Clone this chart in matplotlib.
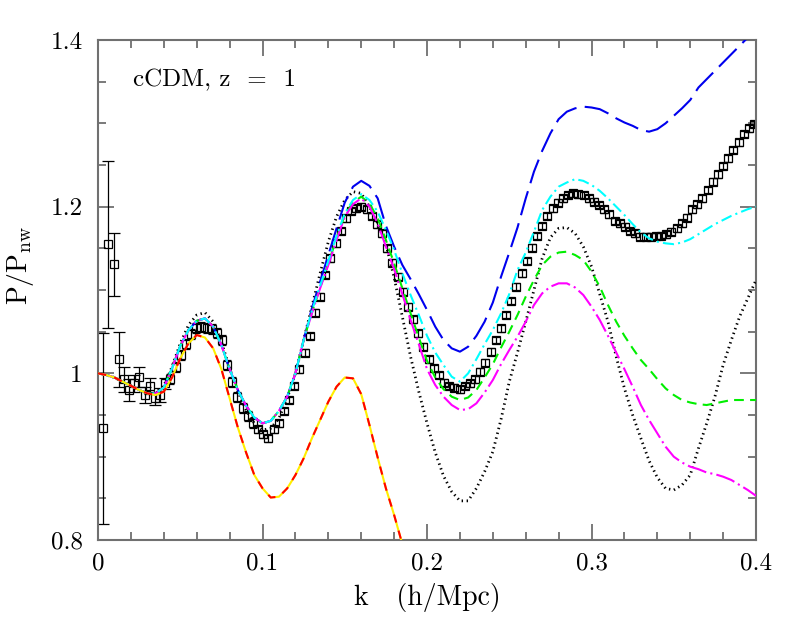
import numpy as np
import matplotlib
matplotlib.use('Agg')
import matplotlib.pyplot as plt

plt.rcParams['font.family'] = ['cmr10', 'DejaVu Serif']
plt.rcParams['mathtext.fontset'] = 'cm'
plt.rcParams['axes.unicode_minus'] = False
plt.rcParams['lines.scale_dashes'] = False

# simulation points (k in units of the fundamental mode)
k_data = 0.00314 * np.arange(1, 128)
p_data = [0.934, 1.155, 1.131, 1.017, 0.993, 0.980, 0.988, 0.996, 0.974, 0.985,
          0.970, 0.974, 0.988, 0.993, 1.008, 1.022, 1.035, 1.047, 1.054, 1.056,
          1.055, 1.053, 1.048, 1.040, 1.010, 0.990, 0.972, 0.958, 0.949, 0.940,
          0.933, 0.927, 0.922, 0.933, 0.940, 0.955, 0.968, 0.985, 1.005, 1.025,
          1.045, 1.073, 1.092, 1.118, 1.138, 1.156, 1.171, 1.186, 1.195, 1.198,
          1.200, 1.197, 1.189, 1.179, 1.168, 1.150, 1.133, 1.116, 1.098, 1.080,
          1.065, 1.048, 1.032, 1.017, 1.006, 0.998, 0.989, 0.985, 0.983, 0.981,
          0.985, 0.988, 0.993, 1.002, 1.013, 1.026, 1.040, 1.054, 1.070, 1.087,
          1.104, 1.120, 1.135, 1.151, 1.165, 1.177, 1.189, 1.198, 1.205, 1.210,
          1.214, 1.216, 1.215, 1.214, 1.210, 1.206, 1.202, 1.197, 1.191, 1.183,
          1.180, 1.176, 1.171, 1.168, 1.164, 1.164, 1.164, 1.165, 1.165, 1.167,
          1.170, 1.174, 1.180, 1.187, 1.197, 1.203, 1.210, 1.220, 1.230, 1.239,
          1.249, 1.258, 1.268, 1.277, 1.287, 1.294, 1.299]
p_err = ([0.115, 0.100, 0.038, 0.033, 0.015, 0.013, 0.010, 0.012, 0.010, 0.010,
          0.008, 0.008, 0.007] + [0.006] * 17 + [0.004] * 97)
n_wide = 13  # points drawn with wide caps

# model curves, sampled every 0.005 in k
k_model = np.linspace(0, 0.4, 81)
group_low = [1.000, 0.998, 0.995, 0.990, 0.985, 0.980, 0.976, 0.976, 0.983, 1.006,
             1.033, 1.052, 1.063, 1.066, 1.056, 1.034, 1.005, 0.980, 0.961, 0.947,
             0.940, 0.943, 0.955, 0.972, 1.000, 1.040]

p_dotted = [1.000, 0.998, 0.995, 0.990, 0.985, 0.980, 0.976, 0.977, 0.985, 1.008,
            1.036, 1.058, 1.070, 1.073, 1.062, 1.038, 1.006, 0.978, 0.956, 0.940,
            0.932, 0.934, 0.946, 0.970, 1.000, 1.040, 1.080, 1.120, 1.158, 1.188,
            1.208, 1.218, 1.216, 1.200, 1.180, 1.155, 1.115, 1.068, 1.020, 0.978,
            0.940, 0.905, 0.877, 0.858, 0.847, 0.847, 0.862, 0.882, 0.906, 0.945,
            0.990, 1.025, 1.062, 1.100, 1.138, 1.163, 1.174, 1.175, 1.168, 1.152,
            1.128, 1.095, 1.062, 1.020, 0.982, 0.950, 0.922, 0.895, 0.875, 0.862,
            0.860, 0.866, 0.878, 0.910, 0.940, 0.972, 1.010, 1.040, 1.068, 1.090,
            1.112]

p_blue = group_low + [
    1.078, 1.110, 1.142, 1.174, 1.205, 1.224, 1.231, 1.225, 1.210, 1.177,
    1.152, 1.130, 1.113, 1.095, 1.076, 1.056, 1.040, 1.030, 1.026, 1.032,
    1.045, 1.062, 1.085, 1.116, 1.145, 1.175, 1.210, 1.242, 1.267, 1.288,
    1.305, 1.314, 1.318, 1.320, 1.319, 1.317, 1.312, 1.306, 1.301, 1.297,
    1.292, 1.290, 1.293, 1.300, 1.309, 1.318, 1.328, 1.343, 1.353, 1.363,
    1.373, 1.383, 1.393, 1.403, 1.413]

p_cyan = group_low + [
    1.075, 1.105, 1.135, 1.165, 1.192, 1.208, 1.215, 1.208, 1.194, 1.172,
    1.148, 1.120, 1.094, 1.070, 1.045, 1.025, 1.010, 0.996, 0.990, 1.000,
    1.017, 1.035, 1.052, 1.072, 1.095, 1.124, 1.145, 1.170, 1.196, 1.212,
    1.224, 1.229, 1.233, 1.231, 1.226, 1.219, 1.210, 1.200, 1.190, 1.179,
    1.169, 1.162, 1.158, 1.156, 1.155, 1.157, 1.161, 1.167, 1.173, 1.179,
    1.184, 1.189, 1.193, 1.197, 1.200]

p_green = group_low + [
    1.073, 1.103, 1.132, 1.162, 1.190, 1.205, 1.212, 1.204, 1.186, 1.160,
    1.132, 1.102, 1.072, 1.043, 1.015, 0.995, 0.981, 0.972, 0.968, 0.971,
    0.980, 0.995, 1.011, 1.031, 1.050, 1.070, 1.092, 1.112, 1.130, 1.140,
    1.145, 1.146, 1.142, 1.136, 1.122, 1.104, 1.082, 1.062, 1.045, 1.030,
    1.016, 1.005, 0.993, 0.982, 0.974, 0.968, 0.965, 0.963, 0.962, 0.964,
    0.966, 0.968, 0.968, 0.968, 0.968]

p_magenta = group_low + [
    1.072, 1.102, 1.130, 1.160, 1.188, 1.203, 1.210, 1.200, 1.180, 1.152,
    1.125, 1.095, 1.064, 1.035, 1.005, 0.986, 0.972, 0.962, 0.956, 0.957,
    0.964, 0.977, 0.992, 1.011, 1.028, 1.044, 1.062, 1.082, 1.096, 1.104,
    1.108, 1.108, 1.103, 1.094, 1.080, 1.064, 1.045, 1.025, 1.005, 0.984,
    0.962, 0.944, 0.928, 0.912, 0.900, 0.893, 0.888, 0.885, 0.881, 0.879,
    0.876, 0.872, 0.866, 0.860, 0.853]

p_linear = [1.000, 0.998, 0.995, 0.990, 0.985, 0.980, 0.976, 0.974, 0.978, 0.995,
            1.018, 1.036, 1.046, 1.043, 1.030, 1.005, 0.970, 0.935, 0.905, 0.878,
            0.862, 0.851, 0.852, 0.862, 0.878, 0.898, 0.922, 0.944, 0.966, 0.984,
            0.995, 0.994, 0.975, 0.938, 0.899, 0.862, 0.830, 0.795, 0.760, 0.720]
k_linear = k_model[:len(p_linear)]

x_ticks = [0, 0.1, 0.2, 0.3, 0.4]
x_labels = ['0', '0.1', '0.2', '0.3', '0.4']
y_ticks = [0.8, 1.0, 1.2, 1.4]
y_labels = ['0.8', '1', '1.2', '1.4']

fig = plt.figure(figsize=(7.97, 6.22), dpi=100)
ax = fig.add_axes([0.1230, 0.1318, 0.8256, 0.8039])

sq = dict(fmt='s', ms=6.2, mfc='none', mec='black', mew=0.9, ecolor='black',
          elinewidth=0.9, capthick=0.9, zorder=2)
ax.errorbar(k_data[:n_wide], p_data[:n_wide], yerr=p_err[:n_wide], capsize=4.5, **sq)
ax.errorbar(k_data[n_wide:], p_data[n_wide:], yerr=p_err[n_wide:], capsize=3, **sq)

lw = 1.5
ax.plot(k_model, p_dotted, color='black', lw=2.0, ls=(0, (1.0, 2.6)), zorder=3)
ax.plot(k_model, p_blue, color='#0000ee', lw=lw, ls=(0, (18, 6)), zorder=3)
ax.plot(k_model, p_green, color='#00ee00', lw=lw, ls=(0, (7, 4.5)), zorder=3)
ax.plot(k_model, p_magenta, color='#ff00ff', lw=lw, ls=(0, (14, 3, 1.5, 3)), zorder=3)
ax.plot(k_model, p_cyan, color='#00ffff', lw=lw, ls=(0, (8, 3, 1.5, 3)), zorder=3)
ax.plot(k_linear, p_linear, color='#ffee00', lw=lw, zorder=4)
ax.plot(k_linear, p_linear, color='#ff0000', lw=lw, ls=(0, (6, 6)), zorder=4)

ax.set_xlim(0, 0.4)
ax.set_ylim(0.8, 1.4)
ax.set_xticks(x_ticks)
ax.set_xticklabels(x_labels)
ax.set_yticks(y_ticks)
ax.set_yticklabels(y_labels)
ax.set_xticks(np.arange(0, 0.401, 0.02), minor=True)
ax.set_yticks(np.arange(0.8, 1.401, 0.05), minor=True)

grey = '#707070'
for s in ax.spines.values():
    s.set_color(grey)
    s.set_linewidth(1.5)
ax.tick_params(which='both', direction='in', top=True, right=True, color=grey, width=1.3)
ax.tick_params(which='major', length=11.5, labelsize=18)
ax.tick_params(which='minor', length=5.5)
ax.tick_params(axis='x', which='major', pad=9)
ax.tick_params(axis='y', which='major', pad=11)

ax.text(0.021, 1.352, 'cCDM, z  =  1', fontsize=18, va='center', ha='left')
ax.set_xlabel('k   (h/Mpc)', fontsize=20)
ax.xaxis.set_label_coords(0.5, -0.085)
ax.set_ylabel(r'$\mathrm{P/P_{nw}}$', fontsize=20)
ax.yaxis.set_label_coords(-0.095, 0.55)

fig.savefig('out.png', dpi=100)
